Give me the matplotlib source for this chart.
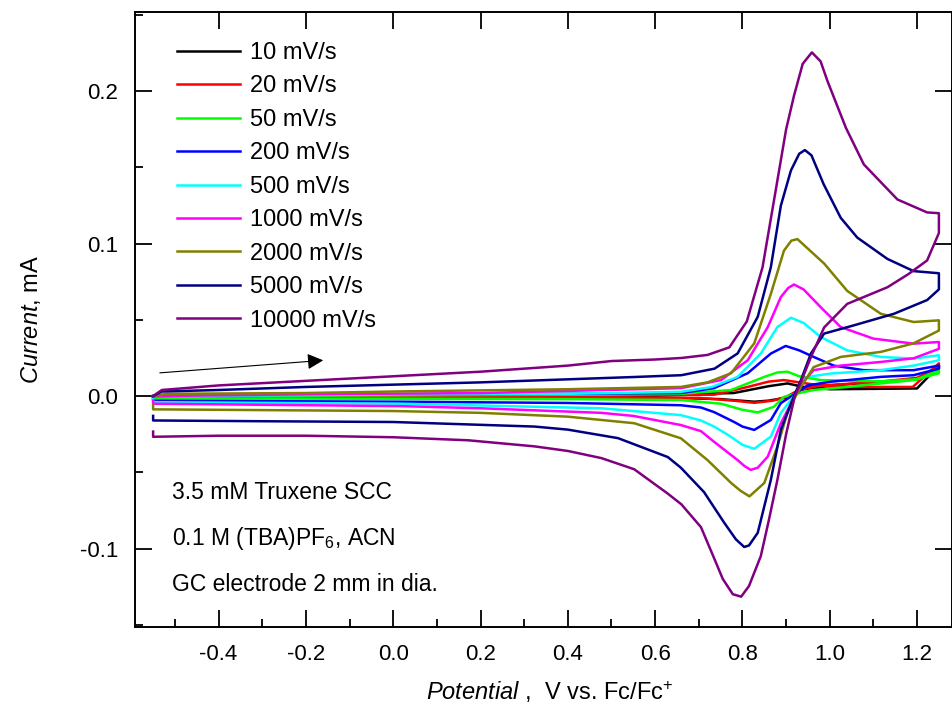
import matplotlib
matplotlib.use("Agg")
import matplotlib.pyplot as plt
from matplotlib.ticker import MultipleLocator, FormatStrFormatter

plt.rcParams['font.family'] = ['Liberation Sans', 'DejaVu Sans']
plt.rcParams['mathtext.fontset'] = 'custom'
plt.rcParams['mathtext.rm'] = 'Liberation Sans'
plt.rcParams['mathtext.it'] = 'Liberation Sans:italic'
plt.rcParams['axes.unicode_minus'] = False

# ---- data (potential V, current mA), loop order ----
e_10 = [-0.55, 0.0, 0.6, 0.78, 0.86, 0.903, 0.94, 1.0, 1.2, 1.25,
        1.25, 1.2, 1.0, 0.93, 0.9, 0.86, 0.827, 0.75, 0.6, 0.0, -0.55]
i_10 = [0.0, 0.0003, 0.0008, 0.002, 0.0065, 0.0083, 0.006, 0.0045, 0.005, 0.020,
        0.018, 0.011, 0.007, 0.004, -0.001, -0.003, -0.0037, -0.002, -0.0008, -0.0005, -0.0005]

e_20 = [-0.55, 0.0, 0.5, 0.735, 0.812, 0.86, 0.895, 0.93, 1.0, 1.19, 1.25,
        1.25, 1.2, 1.1, 0.98, 0.93, 0.9, 0.87, 0.827, 0.78, 0.7, 0.0, -0.55]
i_20 = [0.0, 0.0003, 0.0005, 0.0009, 0.006, 0.0095, 0.0105, 0.009, 0.006, 0.006, 0.0215,
        0.019, 0.012, 0.009, 0.007, 0.004, -0.0005, -0.003, -0.0044, -0.003, -0.0012, -0.001, -0.001]

e_50 = [-0.55, 0.0, 0.5, 0.659, 0.774, 0.85, 0.88, 0.903, 0.93, 0.979, 1.117, 1.2, 1.25,
        1.25, 1.192, 1.04, 0.963, 0.93, 0.895, 0.872, 0.835, 0.80, 0.751, 0.659, 0.4, -0.55]
i_50 = [0.0, 0.0005, 0.001, 0.0015, 0.004, 0.0126, 0.0155, 0.016, 0.013, 0.0105, 0.0097, 0.011, 0.017,
        0.015, 0.0105, 0.006, 0.004, 0.002, -0.0005, -0.007, -0.0107, -0.009, -0.005, -0.0026, -0.002, -0.0015]

e_200 = [-0.55, -0.3, 0.0, 0.4, 0.659, 0.735, 0.812, 0.865, 0.899, 0.93, 0.963, 1.009, 1.078, 1.192, 1.25,
         1.25, 1.192, 1.117, 1.002, 0.949, 0.918, 0.888, 0.865, 0.827, 0.80, 0.781, 0.735, 0.705, 0.659,
         0.4, 0.019, -0.55, -0.55]
i_200 = [0.0, 0.0008, 0.001, 0.0015, 0.002, 0.0052, 0.015, 0.0279, 0.0329, 0.030, 0.0257, 0.020, 0.017, 0.017, 0.020,
         0.018, 0.0137, 0.0126, 0.0094, 0.007, 0.001, -0.0046, -0.0157, -0.0222, -0.020, -0.017, -0.0105, -0.0075, -0.006,
         -0.0045, -0.0037, -0.003, -0.001]

e_500 = [-0.55, 0.0, 0.4, 0.659, 0.73, 0.789, 0.842, 0.88, 0.911, 0.94, 0.979, 1.04, 1.117, 1.192, 1.25,
         1.25, 1.192, 1.117, 1.002, 0.949, 0.93, 0.918, 0.888, 0.865, 0.827, 0.80, 0.77, 0.735, 0.705, 0.659,
         0.477, 0.019, -0.55, -0.55]
i_500 = [0.0, 0.001, 0.0015, 0.0028, 0.006, 0.0126, 0.0279, 0.0453, 0.0514, 0.048, 0.0388, 0.030, 0.0257, 0.0246, 0.0268,
         0.0235, 0.020, 0.017, 0.0148, 0.0126, 0.006, 0.0, -0.011, -0.0266, -0.0346, -0.032, -0.026, -0.020, -0.016, -0.0125,
         -0.008, -0.005, -0.004, -0.002]

e_1000 = [-0.55, -0.2, 0.2, 0.659, 0.751, 0.812, 0.858, 0.888, 0.905, 0.918, 0.94, 0.979, 1.025, 1.10, 1.192, 1.25,
          1.25, 1.192, 1.117, 1.025, 0.963, 0.935, 0.918, 0.888, 0.858, 0.835, 0.819, 0.805, 0.789, 0.735, 0.705,
          0.659, 0.55, 0.477, 0.2, 0.019, -0.55, -0.55]
i_1000 = [0.0, 0.0012, 0.002, 0.0052, 0.0105, 0.0235, 0.0453, 0.065, 0.071, 0.0732, 0.070, 0.0584, 0.0453, 0.0377, 0.0344, 0.0355,
          0.031, 0.0248, 0.0224, 0.020, 0.017, 0.008, -0.001, -0.0178, -0.0397, -0.047, -0.0484, -0.046, -0.042, -0.030, -0.023,
          -0.019, -0.013, -0.011, -0.008, -0.0066, -0.005, -0.003]

e_2000 = [-0.55, -0.52, -0.2, 0.0, 0.4, 0.659, 0.72, 0.774, 0.827, 0.865, 0.895, 0.912, 0.926, 0.945, 0.987, 1.04, 1.117, 1.192, 1.25,
          1.25, 1.192, 1.117, 1.025, 0.963, 0.934, 0.918, 0.903, 0.88, 0.85, 0.816, 0.795, 0.774, 0.72, 0.659,
          0.552, 0.4, 0.2, 0.0, -0.55, -0.55]
i_2000 = [0.0, 0.0015, 0.002, 0.003, 0.0045, 0.006, 0.009, 0.015, 0.0346, 0.067, 0.0954, 0.102, 0.103, 0.098, 0.087, 0.069, 0.054, 0.0486, 0.0497,
          0.043, 0.0346, 0.029, 0.0257, 0.019, 0.006, -0.002, -0.011, -0.033, -0.057, -0.0658, -0.062, -0.057, -0.042, -0.0277,
          -0.0178, -0.0135, -0.011, -0.0098, -0.0087, -0.006]

e_5000 = [-0.55, -0.53, -0.4, -0.2, 0.0, 0.2, 0.4, 0.55, 0.66, 0.736, 0.789, 0.835, 0.865, 0.88, 0.888, 0.911, 0.93, 0.943,
          0.958, 0.986, 1.025, 1.063, 1.132, 1.192, 1.25,
          1.25, 1.223, 1.147, 1.055, 0.987, 0.957, 0.934, 0.918, 0.888, 0.865, 0.835, 0.815, 0.804, 0.785, 0.758, 0.712,
          0.659, 0.629, 0.515, 0.4, 0.324, 0.0, -0.3, -0.55, -0.55]
i_5000 = [0.0, 0.003, 0.004, 0.006, 0.0075, 0.009, 0.011, 0.0125, 0.0137, 0.018, 0.028, 0.052, 0.0845, 0.111, 0.125, 0.148, 0.159, 0.1614,
          0.158, 0.139, 0.117, 0.104, 0.090, 0.082, 0.0806,
          0.070, 0.063, 0.054, 0.0464, 0.041, 0.028, 0.0105, 0.0, -0.022, -0.055, -0.0897, -0.098, -0.099, -0.094, -0.083, -0.063,
          -0.047, -0.040, -0.0276, -0.022, -0.020, -0.017, -0.0165, -0.016, -0.013]

e_10000 = [-0.55, -0.53, -0.4, -0.2, 0.0, 0.2, 0.4, 0.5, 0.6, 0.66, 0.72, 0.77, 0.81, 0.846, 0.872, 0.9, 0.918, 0.938, 0.959,
           0.979, 0.995, 1.037, 1.078, 1.155, 1.223, 1.25,
           1.25, 1.223, 1.18, 1.132, 1.04, 0.987, 0.957, 0.935, 0.92, 0.90, 0.88, 0.86, 0.842, 0.815, 0.797, 0.778, 0.755,
           0.736, 0.705, 0.66, 0.629, 0.552, 0.477, 0.4, 0.324, 0.172, 0.0, -0.2, -0.4, -0.55, -0.55]
i_10000 = [0.0, 0.004, 0.007, 0.010, 0.013, 0.016, 0.020, 0.023, 0.024, 0.025, 0.027, 0.032, 0.049, 0.0845, 0.128, 0.175, 0.197, 0.218, 0.2255,
           0.2196, 0.2065, 0.176, 0.152, 0.129, 0.1205, 0.120,
           0.107, 0.089, 0.080, 0.0714, 0.0605, 0.045, 0.0257, 0.010, 0.0, -0.025, -0.055, -0.082, -0.105, -0.1246, -0.1316, -0.130, -0.12,
           -0.107, -0.086, -0.071, -0.064, -0.048, -0.0407, -0.036, -0.033, -0.029, -0.027, -0.026, -0.026, -0.0267, -0.0233]

labels = ['10 mV/s', '20 mV/s', '50 mV/s', '200 mV/s', '500 mV/s',
          '1000 mV/s', '2000 mV/s', '5000 mV/s', '10000 mV/s']
colors = ['#000000', '#ff0000', '#00ff00', '#0000ff', '#00ffff',
          '#ff00ff', '#808000', '#000080', '#800080']
potentials = [e_10, e_20, e_50, e_200, e_500, e_1000, e_2000, e_5000, e_10000]
currents = [i_10, i_20, i_50, i_200, i_500, i_1000, i_2000, i_5000, i_10000]

fig = plt.figure(figsize=(9.52, 7.2), dpi=100)
ax = fig.add_axes([135/952, 93/720, 817/952, 615/720])

for e, i, c, lab in zip(potentials, currents, colors, labels):
    ax.plot(e, i, color=c, lw=1.8, label=lab)

ax.set_xlim(-0.5915, 1.28)
ax.set_ylim(-0.1515, 0.252)

ax.xaxis.set_major_locator(MultipleLocator(0.2))
ax.xaxis.set_minor_locator(MultipleLocator(0.1))
ax.yaxis.set_major_locator(MultipleLocator(0.1))
ax.yaxis.set_minor_locator(MultipleLocator(0.05))
ax.xaxis.set_major_formatter(FormatStrFormatter('%.1f'))
ax.yaxis.set_major_formatter(FormatStrFormatter('%.1f'))
ax.tick_params(which='both', direction='in', top=True, right=True, width=1.3, labelsize=16, pad=12)
ax.tick_params(which='major', length=12)
ax.tick_params(which='minor', length=6, top=False, right=False)
for s in ax.spines.values():
    s.set_linewidth(1.4)

ax.set_xlabel(r'$\mathit{Potential}$ ,  V vs. Fc/Fc$^{+}$', fontsize=17)
ax.set_ylabel(r'$\mathit{Current}$, mA', fontsize=17)
ax.xaxis.set_label_coords(0.508, -0.085)
ax.yaxis.set_label_coords(-0.113, 0.50)

# scan direction arrow
ax.annotate('', xy=(-0.154, 0.0236), xytext=(-0.541, 0.0151),
            arrowprops=dict(arrowstyle='-|>', color='black', lw=0.8, mutation_scale=24))

leg = ax.legend(loc='upper left', bbox_to_anchor=(177/952, 1 - 42/720), bbox_transform=fig.transFigure,
                frameon=False, fontsize=17, handlelength=2.65, handletextpad=0.45,
                labelspacing=0.485, borderpad=0, borderaxespad=0)

fig.text(172/952, 1 - 499/720, '3.5 mM Truxene SCC', fontsize=16.5, va='baseline')
fig.text(172/952, 1 - 545/720, r'0.1 M (TBA)PF$_{6}$, ACN', fontsize=16.5, va='baseline')
fig.text(172/952, 1 - 591/720, 'GC electrode 2 mm in dia.', fontsize=16.5, va='baseline')

fig.savefig('out.png', dpi=100)
